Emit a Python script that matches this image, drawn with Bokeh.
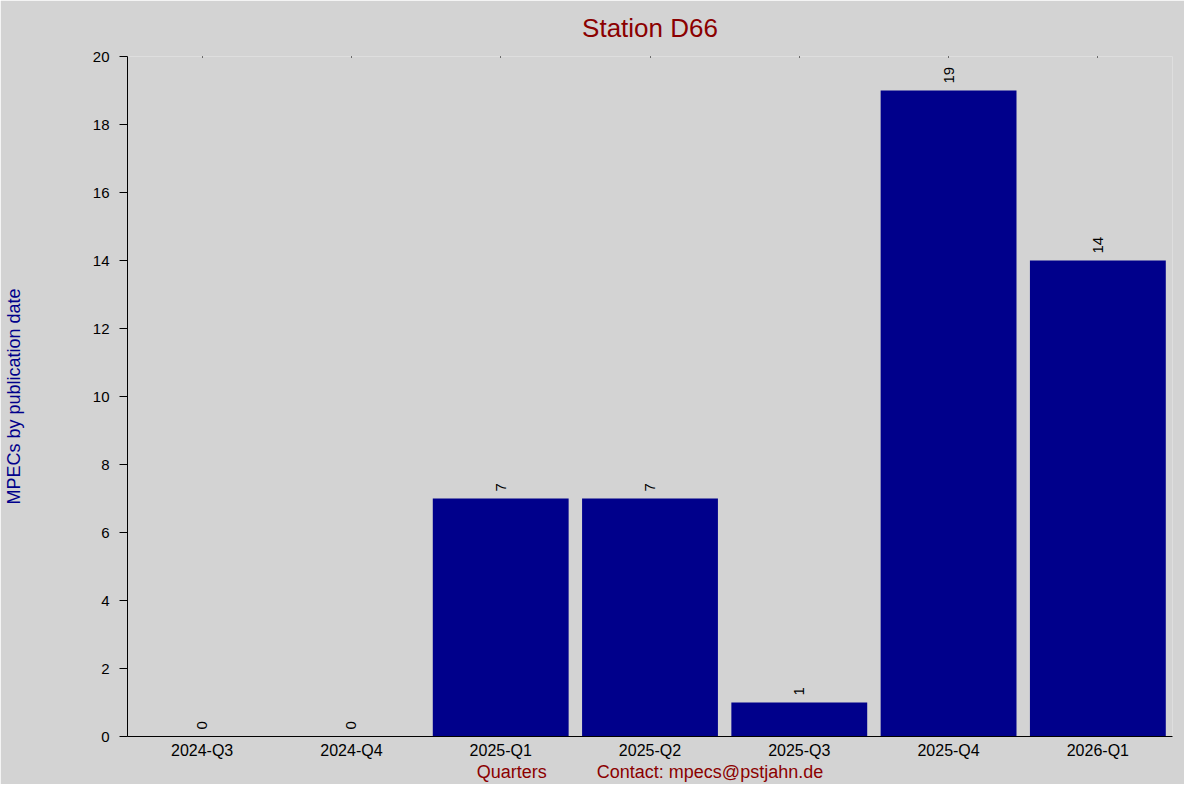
import math
from bokeh.plotting import figure
from bokeh.models import ColumnDataSource, FactorRange, Range1d, CategoricalAxis, SingleIntervalTicker
from bokeh.core.properties import value
from bokeh.embed import file_html
from bokeh.resources import INLINE

quarters = ["2024-Q3", "2024-Q4", "2025-Q1", "2025-Q2", "2025-Q3", "2025-Q4", "2026-Q1"]
counts = [0, 0, 7, 7, 1, 19, 14]
labels = [str(c) for c in counts]

FONT = "Liberation Sans"
BG = "#d3d3d3"

src = ColumnDataSource(dict(q=quarters, c=counts, t=labels))

p = figure(width=1184, height=784, x_range=FactorRange(*quarters, range_padding=0),
           y_range=Range1d(0, 20), output_backend="svg", toolbar_location=None,
           min_border_left=126, min_border_right=12, min_border_top=56, min_border_bottom=44)

p.background_fill_color = BG
p.border_fill_color = BG
p.outline_line_color = None
p.grid.visible = False

p.title.text = "Station D66"
p.title.align = "center"
p.title.vertical_align = "top"
p.title.text_font = FONT
p.title.text_font_size = "26px"
p.title.text_font_style = "normal"
p.title.text_color = "#8B0000"
p.title.standoff = 24

p.vbar(x="q", top="c", width=0.91, source=src, fill_color="#00008B", line_color=None)
p.text(x="q", y="c", text="t", source=src, angle=math.pi / 2, y_offset=-7,
       text_align="left", text_baseline="middle", text_font=value(FONT),
       text_font_size="15px", text_color="black")

# y axis
ya = p.yaxis[0]
ya.ticker = SingleIntervalTicker(interval=2)
ya.minor_tick_line_color = None
ya.major_tick_out = 8
ya.major_tick_in = 0
ya.major_label_text_font = FONT
ya.major_label_text_font_size = "15px"
ya.major_label_text_color = "black"
ya.major_label_standoff = 10
ya.axis_label = "MPECs by publication date"
ya.axis_label_text_font = FONT
ya.axis_label_text_font_size = "18px"
ya.axis_label_text_font_style = "normal"
ya.axis_label_text_color = "#00008B"
ya.axis_label_standoff = 66

# x axis
xa = p.xaxis[0]
xa.major_tick_out = 0
xa.major_tick_in = 0
xa.major_label_text_font = FONT
xa.major_label_text_font_size = "16px"
xa.major_label_text_color = "black"
xa.major_label_standoff = 5
xa.axis_label = "Quarters" + "\u00a0" * 10 + "Contact: mpecs@pstjahn.de"
xa.axis_label_text_font = FONT
xa.axis_label_text_font_size = "18px"
xa.axis_label_text_font_style = "normal"
xa.axis_label_text_color = "#8B0000"
xa.axis_label_standoff = 0

# top dotted ticks
top = CategoricalAxis(axis_line_color=None, major_label_text_color=None,
                      major_label_text_font_size="1px",
                      major_tick_out=0, major_tick_in=1, major_tick_line_color="black",
                      major_label_standoff=0)
p.add_layout(top, "above")

open("out.html", "w").write(file_html(p, INLINE))
